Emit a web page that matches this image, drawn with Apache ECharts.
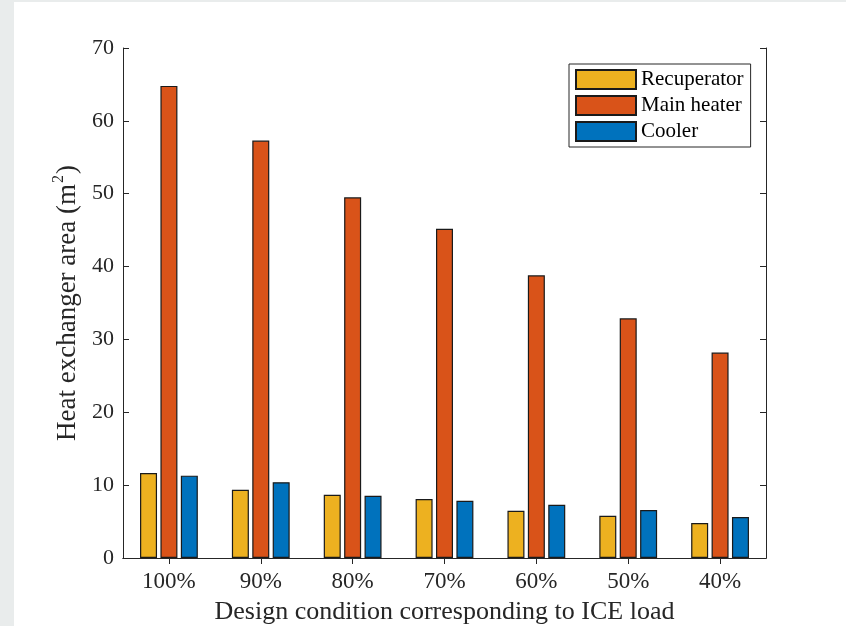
<!DOCTYPE html>
<html>
<head>
<meta charset="utf-8">
<script src="https://cdn.jsdelivr.net/npm/echarts@6/dist/echarts.min.js"></script>
<style>
  html, body { margin: 0; padding: 0; background: #e9ecec; width: 846px; height: 626px; overflow: hidden; }
  #chart { position: absolute; left: 14px; top: 2px; width: 832px; height: 624px; background: #ffffff; }
</style>
</head>
<body>
<div id="chart"></div>
<script>
const categories = ['100%', '90%', '80%', '70%', '60%', '50%', '40%'];
const recuperator = [11.65, 9.37, 8.68, 8.09, 6.49, 5.80, 4.80];
const mainHeater = [64.8, 57.3, 49.5, 45.2, 38.8, 32.9, 28.2];
const cooler = [11.3, 10.4, 8.55, 7.86, 7.31, 6.58, 5.62];
const seriesNames = ['Recuperator', 'Main heater', 'Cooler'];
const colors = ['#EDB120', '#D95319', '#0072BD'];
const yTicks = { min: 0, max: 70, interval: 10 };
const xTitle = 'Design condition corresponding to ICE load';
const yTitle = 'Heat exchanger area (m{s|2})';

const font = 'Liberation Serif, Times New Roman, serif';
const axisColor = '#262626';
const chart = echarts.init(document.getElementById('chart'));

const barSeries = [recuperator, mainHeater, cooler].map((d, i) => ({
  name: seriesNames[i],
  type: 'bar',
  data: d,
  xAxisIndex: 0,
  yAxisIndex: 0,
  barWidth: 17,
  barGap: '20%',
  itemStyle: { color: colors[i], borderColor: '#1a1a1a', borderWidth: 1.2 },
  emphasis: { disabled: true }
}));

chart.setOption({
  animation: false,
  grid: { left: 109, top: 46, width: 643, height: 510, containLabel: false, outerBoundsMode: 'none' },
  legend: {
    orient: 'vertical',
    left: 555, top: 62,
    itemWidth: 60, itemHeight: 19, itemGap: 5,
    padding: [5, 7, 5, 6],
    borderColor: axisColor, borderWidth: 1,
    backgroundColor: '#ffffff',
    icon: 'rect',
    textStyle: { fontFamily: font, fontSize: 21, color: '#000' },
    data: seriesNames
  },
  xAxis: [{
    type: 'category',
    data: categories,
    position: 'bottom',
    name: xTitle,
    nameLocation: 'middle',
    nameGap: 41,
    nameTextStyle: { fontFamily: font, fontSize: 26, color: axisColor },
    axisLine: { show: true, lineStyle: { color: axisColor, width: 1 } },
    axisTick: { show: true, inside: true, length: 6, alignWithLabel: true, lineStyle: { color: axisColor } },
    axisLabel: { fontFamily: font, fontSize: 23, color: axisColor, margin: 12 },
    splitLine: { show: false }
  }, {
    type: 'category',
    data: categories,
    position: 'top',
    axisLine: { show: true, lineStyle: { color: axisColor, width: 1 } },
    axisTick: { show: true, inside: true, length: 6, alignWithLabel: true, lineStyle: { color: axisColor } },
    axisLabel: { show: false },
    splitLine: { show: false }
  }],
  yAxis: [{
    type: 'value',
    min: yTicks.min, max: yTicks.max, interval: yTicks.interval,
    position: 'left',
    name: yTitle,
    nameLocation: 'middle',
    nameGap: 37,
    nameTextStyle: {
      fontFamily: font, fontSize: 27, color: axisColor,
      rich: { s: { fontFamily: font, fontSize: 16, color: axisColor, verticalAlign: 'top', padding: [0, 1, 17, 1] } }
    },
    axisLine: { show: true, lineStyle: { color: axisColor, width: 1 } },
    axisTick: { show: true, inside: true, length: 6, lineStyle: { color: axisColor } },
    axisLabel: { fontFamily: font, fontSize: 22, color: axisColor, margin: 9 },
    splitLine: { show: false }
  }, {
    type: 'value',
    min: yTicks.min, max: yTicks.max, interval: yTicks.interval,
    position: 'right',
    axisLine: { show: true, lineStyle: { color: axisColor, width: 1 } },
    axisTick: { show: true, inside: true, length: 6, lineStyle: { color: axisColor } },
    axisLabel: { show: false },
    splitLine: { show: false }
  }],
  series: barSeries
});
</script>
</body>
</html>
